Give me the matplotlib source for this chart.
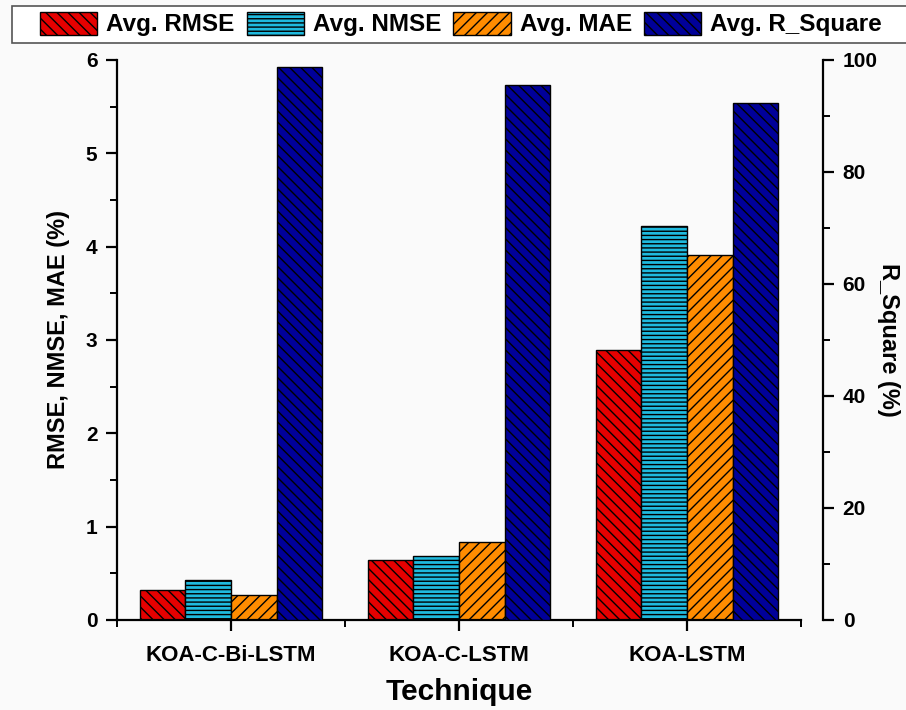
import matplotlib
matplotlib.use("Agg")
import matplotlib.pyplot as plt
from matplotlib.patches import Rectangle
from matplotlib.ticker import MultipleLocator, FixedLocator

# ---------------------------------------------------------------------
# Data
# ---------------------------------------------------------------------
techniques = ["KOA-C-Bi-LSTM", "KOA-C-LSTM", "KOA-LSTM"]
avg_rmse = [0.32, 0.64, 2.89]
avg_nmse = [0.43, 0.69, 4.22]
avg_mae = [0.27, 0.84, 3.91]
avg_r_square = [98.8, 95.6, 92.3]

series_names = ["Avg. RMSE", "Avg. NMSE", "Avg. MAE", "Avg. R_Square"]
colors = ["#e50000", "#1fbade", "#ff8c00", "#000099"]
hatches = ["\\\\\\", "----", "///", "\\\\\\"]

plt.rcParams["font.family"] = ["Liberation Sans", "DejaVu Sans"]
plt.rcParams["font.weight"] = "bold"
plt.rcParams["hatch.linewidth"] = 1.0

BG = "#fafafa"
fig = plt.figure(figsize=(9.06, 7.10), dpi=100, facecolor=BG)
ax = fig.add_axes([0.1291, 0.1268, 0.755, 0.7887], facecolor=BG)
ax2 = ax.twinx()

x = list(range(1, len(techniques) + 1))
w = 0.2
left_series = [avg_rmse, avg_nmse, avg_mae]
handles = []
for i, vals in enumerate(left_series):
    pos = [xi + (i - 1.5) * w for xi in x]
    b = ax.bar(pos, vals, width=w, color=colors[i], edgecolor="black",
               linewidth=1.0, hatch=hatches[i], label=series_names[i])
    handles.append(b)

pos = [xi + 1.5 * w for xi in x]
b = ax2.bar(pos, avg_r_square, width=w, color=colors[3], edgecolor="black",
            linewidth=1.0, hatch=hatches[3], label=series_names[3])
handles.append(b)

# Left axis
ax.set_xlim(0.5, 3.5)
ax.set_ylim(0, 6)
ax.yaxis.set_major_locator(MultipleLocator(1))
ax.yaxis.set_minor_locator(MultipleLocator(0.5))
ax.set_xticks(x)
ax.set_xticklabels(techniques)
ax.xaxis.set_minor_locator(FixedLocator([0.5, 1.5, 2.5, 3.5]))
for s in ["top", "right"]:
    ax.spines[s].set_visible(False)
for s in ["left", "bottom"]:
    ax.spines[s].set_linewidth(1.6)
ax.tick_params(axis="both", which="major", direction="out", length=8, width=1.6,
               labelsize=15, pad=6)
ax.tick_params(axis="both", which="minor", direction="out", length=5, width=1.4)
ax.tick_params(axis="x", which="major", labelsize=16, pad=10)
ax.set_ylabel("RMSE, NMSE, MAE (%)", fontsize=17, fontweight="bold", labelpad=11)
ax.set_xlabel("Technique", fontsize=21.5, fontweight="bold", labelpad=9)

# Right axis
ax2.set_ylim(0, 100)
ax2.yaxis.set_major_locator(MultipleLocator(20))
ax2.yaxis.set_minor_locator(MultipleLocator(10))
for s in ["top", "left", "bottom"]:
    ax2.spines[s].set_visible(False)
ax2.spines["right"].set_position(("outward", 16))
ax2.spines["right"].set_linewidth(1.6)
ax2.tick_params(axis="y", which="major", direction="out", length=8, width=1.6,
                labelsize=15, pad=6)
ax2.tick_params(axis="y", which="minor", direction="out", length=5, width=1.4)
ax2.set_ylabel("R_Square (%)", fontsize=17, fontweight="bold", rotation=270,
               labelpad=16)

for lab in ax.get_xticklabels() + ax.get_yticklabels() + ax2.get_yticklabels():
    lab.set_fontweight("bold")

# Legend strip along the top
fig.patches.append(Rectangle((12 / 906, 1 - 43 / 710), 1.0, 37 / 710,
                             transform=fig.transFigure, facecolor="white",
                             edgecolor="#555555", linewidth=1.2))
fig.legend(handles, series_names, loc="center left",
           bbox_to_anchor=(40 / 906, 1 - 24 / 710), ncol=4, frameon=False,
           prop={"size": 17.5, "weight": "bold"}, handlelength=2.35,
           handleheight=1.07, handletextpad=0.37, columnspacing=0.5,
           borderaxespad=0, borderpad=0)

fig.savefig("out.png", dpi=100, facecolor=BG)
